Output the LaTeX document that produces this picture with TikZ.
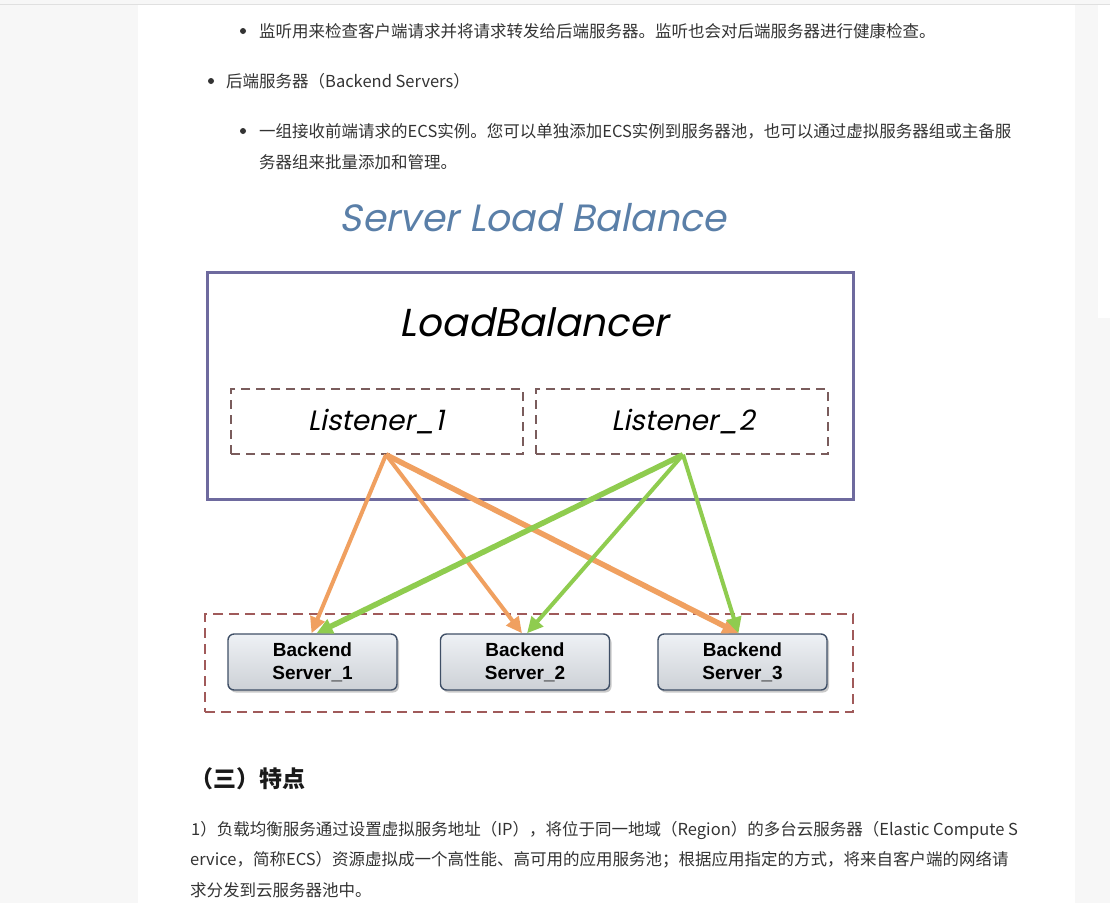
\documentclass[tikz,border=0pt]{standalone}
\usepackage{fontspec}
\setmainfont{Noto Sans CJK SC}
\newfontfamily\arialf{Liberation Sans}
\newfontfamily\gothic[FakeSlant=0.2]{Poppins}
\usetikzlibrary{arrows.meta,shadows,calc}
\definecolor{pagegray}{HTML}{F7F7F7}
\definecolor{txt}{HTML}{333333}
\definecolor{lbframe}{HTML}{6E6A9E}
\definecolor{lsdash}{HTML}{7A5C5C}
\definecolor{grpdash}{HTML}{A05A5A}
\definecolor{srvframe}{HTML}{3F4F66}
\definecolor{srvtop}{HTML}{EEF1F5}
\definecolor{srvbot}{HTML}{CDD1D6}
\definecolor{orangeln}{HTML}{F0A060}
\definecolor{greenln}{HTML}{8FCC4F}
\definecolor{titleblue}{HTML}{5A7FA8}
\tikzset{
  bodytext/.style={anchor=base west,inner sep=0pt,text=txt,font=\fontsize{16.5}{20}\selectfont},
  bul/.style={circle,fill=txt,inner sep=0pt,minimum size=6pt},
  lsbox/.style={draw=lsdash,line width=1.4pt,dash pattern=on 9pt off 6pt,minimum width=292pt,minimum height=65pt,inner sep=0pt},
  srvbox/.style={draw=srvframe,line width=1.4pt,rounded corners=6pt,top color=srvtop,bottom color=srvbot,
    minimum width=169pt,minimum height=56pt,inner sep=0pt,align=center,
    drop shadow={shadow xshift=2pt,shadow yshift=-2.5pt,fill=black!35,opacity=0.6},
    font=\arialf\bfseries\fontsize{19}{23}\selectfont},
  oarr/.style={draw=orangeln,line width=4pt,-{Triangle[length=16pt,width=15pt]}},
  garr/.style={draw=greenln,line width=4pt,-{Triangle[length=16pt,width=15pt]}},
}
\begin{document}
\begin{tikzpicture}[x=1pt,y=-1pt]
\useasboundingbox (0,0) rectangle (1110,903);
% page background
\fill[pagegray] (0,0) rectangle (1110,903);
\fill[white] (138,5) rectangle (1075,903);
\fill[white] (1098,5) rectangle (1110,318);
\fill[black!12] (0,3.5) rectangle (1110,5);

% text above
\node[bul] (b1) at (243,31) {};
\node[bodytext] (t1) at (259,37) {监听用来检查客户端请求并将请求转发给后端服务器。监听也会对后端服务器进行健康检查。};
\node[bul] (b2) at (211,81) {};
\node[bodytext] (t2) at (226,87) {后端服务器（Backend Servers）};
\node[bul] (b3) at (243,131) {};
\node[bodytext] (t3) at (259,137) {一组接收前端请求的ECS实例。您可以单独添加ECS实例到服务器池，也可以通过虚拟服务器组或主备服};
\node[bodytext] (t4) at (259,168) {务器组来批量添加和管理。};

% diagram
\node[text=titleblue,font=\gothic\fontsize{38}{40}\selectfont,inner sep=0pt] (title) at (533,218) {Server Load Balance};
\node[draw=lbframe,line width=3pt,minimum width=646pt,minimum height=227pt,inner sep=0pt] (lb) at (530,385.5) {};
\node[font=\gothic\fontsize{39}{40}\selectfont,inner sep=0pt] (lbt) at (534,322) {LoadBalancer};
\node[lsbox] (l1) at (377,421.5) {};
\node[lsbox] (l2) at (682,421.5) {};
\node[font=\gothic\fontsize{28}{30}\selectfont,inner sep=0pt] (l1t) at (376,422) {Listener\_1};
\node[font=\gothic\fontsize{28}{30}\selectfont,inner sep=0pt] (l2t) at (683,422) {Listener\_2};

\node[draw=grpdash,line width=1.4pt,dash pattern=on 10pt off 6pt,minimum width=648pt,minimum height=98pt,inner sep=0pt] (grp) at (529,663) {};
\node[srvbox] (s1) at (312.5,662) {Backend\\Server\_1};
\node[srvbox] (s2) at (525,662) {Backend\\Server\_2};
\node[srvbox] (s3) at (742.5,662) {Backend\\Server\_3};

\coordinate (o1) at ([xshift=9pt]l1.south);
\coordinate (o2) at ([xshift=1pt]l2.south);
\draw[oarr] (o1) -- ([xshift=-1pt]s1.north);
\draw[oarr] (o1) -- ([xshift=-3pt]s2.north);
\draw[oarr,line width=5.5pt] (o1) -- ([xshift=-4pt]s3.north);
\draw[garr,line width=5.5pt] (o2) -- ([xshift=4pt]s1.north);
\draw[garr] (o2) -- ([xshift=2pt]s2.north);
\draw[garr] (o2) -- ([xshift=-4pt]s3.north);

% text below
\node[anchor=base west,inner sep=0pt,text=black!90,font=\bfseries\fontsize{23}{26}\selectfont] (h) at (190,787) {（三）特点};
\node[bodytext] (p1) at (191,835) { 1）负载均衡服务通过设置虚拟服务地址（IP），将位于同一地域（Region）的多台云服务器（Elastic Compute S};
\node[bodytext] (p2) at (190,865) {ervice，简称ECS）资源虚拟成一个高性能、高可用的应用服务池；根据应用指定的方式，将来自客户端的网络请};
\node[bodytext] (p3) at (190,896) {求分发到云服务器池中。};
\end{tikzpicture}
\end{document}
